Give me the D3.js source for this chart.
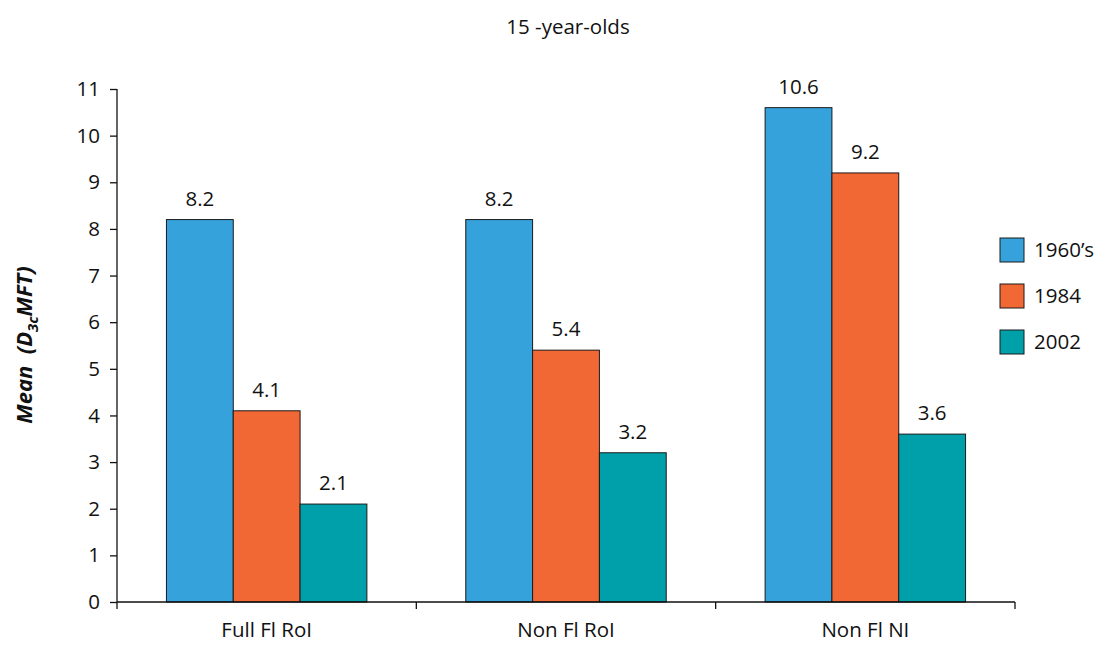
<!DOCTYPE html>
<html><head><meta charset="utf-8">
<script src="https://cdn.jsdelivr.net/npm/d3@7"></script>
<style>body{margin:0;background:#fff;} text{font-family:"Open Sans","Noto Sans",sans-serif;fill:#111;}</style>
</head><body>
<svg id="c" width="1101" height="648"></svg>
<script>
const categories = ["Full Fl RoI", "Non Fl RoI", "Non Fl NI"];
const seriesNames = ["1960’s", "1984", "2002"];
const s1960 = [8.2, 8.2, 10.6];
const s1984 = [4.1, 5.4, 9.2];
const s2002 = [2.1, 3.2, 3.6];
const yTicks = [0,1,2,3,4,5,6,7,8,9,10,11];
const colors = ["#36a2db", "#f26835", "#00a0aa"];
const series = [s1960, s1984, s2002];

const svg = d3.select("#c");
const x = d3.scaleBand().domain(categories).range([117, 1015]);
const xi = d3.scaleBand().domain(seriesNames).range([0, x.bandwidth()]).paddingOuter(0.74);
const y = d3.scaleLinear().domain([0, 11]).range([602, 89]);
const FS = "20.5px";

svg.append("text").attr("x", 568).attr("y", 34).attr("text-anchor", "middle").style("font-size", FS).text("15 -year-olds");

// bars
series.forEach((vals, si) => {
  svg.append("g").selectAll("rect").data(vals).join("rect")
    .attr("x", (d, i) => x(categories[i]) + xi(seriesNames[si]))
    .attr("y", d => y(d))
    .attr("width", xi.bandwidth())
    .attr("height", d => y(0) - y(d))
    .attr("fill", colors[si]).attr("stroke", "#1a1a1a").attr("stroke-width", 1);
  svg.append("g").selectAll("text").data(vals).join("text")
    .attr("x", (d, i) => x(categories[i]) + xi(seriesNames[si]) + xi.bandwidth()/2)
    .attr("y", d => y(d) - 14)
    .attr("text-anchor", "middle").style("font-size", FS)
    .text(d => d.toFixed(1));
});

// y axis
const ya = svg.append("g").attr("transform", "translate(117,0)")
  .call(d3.axisLeft(y).tickValues(yTicks).tickSize(7).tickPadding(10));
ya.selectAll("text").style("font-size", FS).attr("fill", "#111");
ya.selectAll("line,path").attr("stroke", "#111").attr("stroke-width", 1.3);
ya.select(".domain").attr("d", "M0,602V89");

// x axis
const xa = svg.append("g").attr("transform", "translate(0,602)")
  .call(d3.axisBottom(x).tickSize(0).tickPadding(20));
xa.selectAll("text").style("font-size", FS).attr("fill", "#111");
xa.select(".domain").attr("stroke", "#111").attr("stroke-width", 1.6).attr("d", "M117,0H1015");
const bounds = categories.map(c => x(c)).concat([x(categories[categories.length-1]) + x.bandwidth()]);
xa.selectAll(".sep").data(bounds).join("line").attr("class","sep")
  .attr("x1", d => d).attr("x2", d => d).attr("y1", 0).attr("y2", 7)
  .attr("stroke", "#111").attr("stroke-width", 1.3);

// y label
const yl = svg.append("text").attr("transform", "translate(32,345) rotate(-90)")
  .attr("text-anchor", "middle").style("font-size", "22px").style("font-weight", "bold").style("font-style", "italic")
  .style("white-space", "pre");
yl.append("tspan").text("Mean  (D");
yl.append("tspan").attr("dy", 6).style("font-size", "15px").text("3c");
yl.append("tspan").attr("dy", -6).text("MFT)");

// legend
const lg = svg.append("g").attr("transform", "translate(1000,238)");
seriesNames.forEach((n, i) => {
  const g = lg.append("g").attr("transform", `translate(0,${i*46})`);
  g.append("rect").attr("width", 24).attr("height", 24).attr("fill", colors[i]).attr("stroke", "#1a1a1a");
  g.append("text").attr("x", 34).attr("y", 19).style("font-size", FS).text(n);
});
</script>
</body></html>
